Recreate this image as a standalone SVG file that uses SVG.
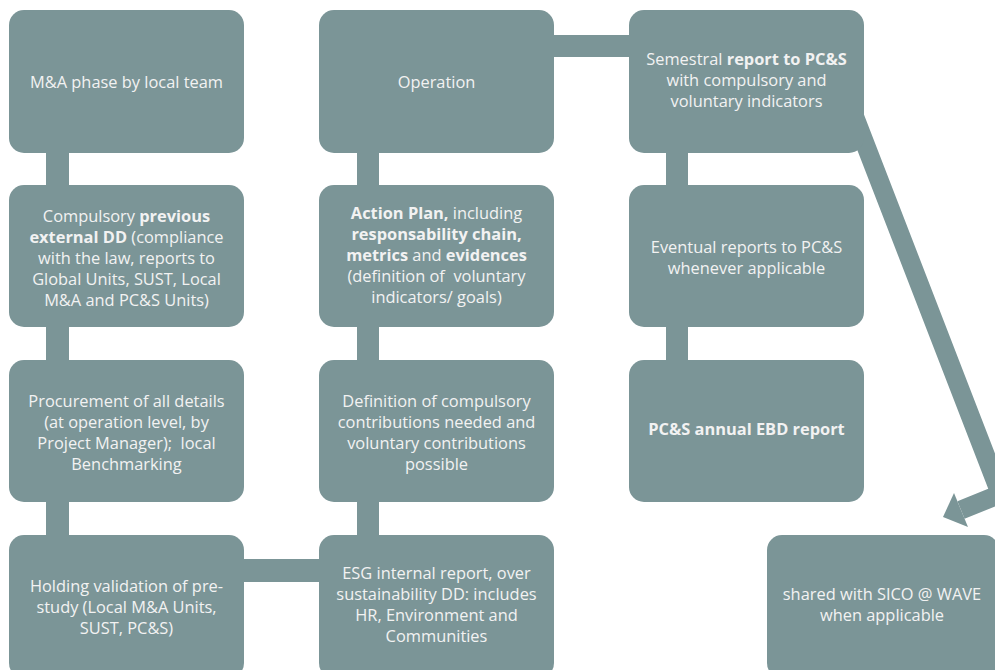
<svg xmlns="http://www.w3.org/2000/svg" width="995" height="670" viewBox="0 0 995 670">
<style>
.box{fill:#7b9597}
.con{fill:#7b9597}
text{font-family:"Open Sans","Liberation Sans",sans-serif;font-size:16.4px;fill:#f2f2f2;text-anchor:middle;white-space:pre}
.b{font-weight:bold}
</style>
<rect width="995" height="670" fill="#ffffff"/>
<g id="connectors">
<rect class="con" x="46" y="150" width="23" height="40"/>
<rect class="con" x="46" y="325" width="23" height="40"/>
<rect class="con" x="46" y="500" width="23" height="40"/>
<rect class="con" x="357" y="150" width="22" height="40"/>
<rect class="con" x="357" y="325" width="22" height="40"/>
<rect class="con" x="357" y="500" width="22" height="40"/>
<rect class="con" x="666" y="150" width="22" height="40"/>
<rect class="con" x="666" y="325" width="22" height="40"/>
<rect class="con" x="550" y="35" width="84" height="22"/>
<rect class="con" x="240" y="559" width="84" height="23"/>
<path d="M852 110 L1000.5 494 L961 510" fill="none" stroke="#7b9597" stroke-width="19" stroke-linejoin="round"/>
<polygon points="943,517 954,493 968,527" fill="#7b9597"/>
</g>
<g id="n1"><rect class="box" x="9" y="10" width="235" height="143" rx="15"/>
<text x="126.5" y="88">M&amp;A phase by local team</text></g>
<g id="n2"><rect class="box" x="9" y="185" width="235" height="142" rx="15"/>
<text x="126.5" y="222">Compulsory <tspan class="b">previous</tspan></text>
<text x="126.5" y="243"><tspan class="b">external DD</tspan> (compliance</text>
<text x="126.5" y="264">with the law, reports to</text>
<text x="126.5" y="285">Global Units, SUST, Local</text>
<text x="126.5" y="306">M&amp;A and PC&amp;S Units)</text></g>
<g id="n3"><rect class="box" x="9" y="360" width="235" height="142" rx="15"/>
<text x="126.5" y="407">Procurement of all details</text>
<text x="126.5" y="428">(at operation level, by</text>
<text x="126.5" y="449">Project Manager);  local</text>
<text x="126.5" y="470">Benchmarking</text></g>
<g id="n4"><rect class="box" x="9" y="535" width="235" height="143" rx="15"/>
<text x="126.5" y="592">Holding validation of pre-</text>
<text x="126.5" y="613">study (Local M&amp;A Units,</text>
<text x="126.5" y="634">SUST, PC&amp;S)</text></g>
<g id="n5"><rect class="box" x="319" y="10" width="235" height="143" rx="15"/>
<text x="436.5" y="88">Operation</text></g>
<g id="n6"><rect class="box" x="319" y="185" width="235" height="142" rx="15"/>
<text x="436.5" y="219"><tspan class="b">Action Plan,</tspan> including</text>
<text x="436.5" y="240" class="b">responsability chain,</text>
<text x="436.5" y="261"><tspan class="b">metrics</tspan> and <tspan class="b">evidences</tspan></text>
<text x="436.5" y="282">(definition of  voluntary</text>
<text x="436.5" y="303">indicators/ goals)</text></g>
<g id="n7"><rect class="box" x="319" y="360" width="235" height="142" rx="15"/>
<text x="436.5" y="407">Definition of compulsory</text>
<text x="436.5" y="428">contributions needed and</text>
<text x="436.5" y="449">voluntary contributions</text>
<text x="436.5" y="470">possible</text></g>
<g id="n8"><rect class="box" x="319" y="535" width="235" height="143" rx="15"/>
<text x="436.5" y="579">ESG internal report, over</text>
<text x="436.5" y="600">sustainability DD: includes</text>
<text x="436.5" y="621">HR, Environment and</text>
<text x="436.5" y="642">Communities</text></g>
<g id="n9"><rect class="box" x="629" y="10" width="235" height="143" rx="15"/>
<text x="746.5" y="65">Semestral <tspan class="b">report to PC&amp;S</tspan></text>
<text x="746.5" y="86">with compulsory and</text>
<text x="746.5" y="107">voluntary indicators</text></g>
<g id="n10"><rect class="box" x="629" y="185" width="235" height="142" rx="15"/>
<text x="746.5" y="253">Eventual reports to PC&amp;S</text>
<text x="746.5" y="274">whenever applicable</text></g>
<g id="n11"><rect class="box" x="629" y="360" width="235" height="142" rx="15"/>
<text x="746.5" y="435" class="b">PC&amp;S annual EBD report</text></g>
<g id="n12"><rect class="box" x="767" y="535" width="232" height="143" rx="15"/>
<text x="882" y="600">shared with SICO @ WAVE</text>
<text x="882" y="621">when applicable</text></g>
</svg>
